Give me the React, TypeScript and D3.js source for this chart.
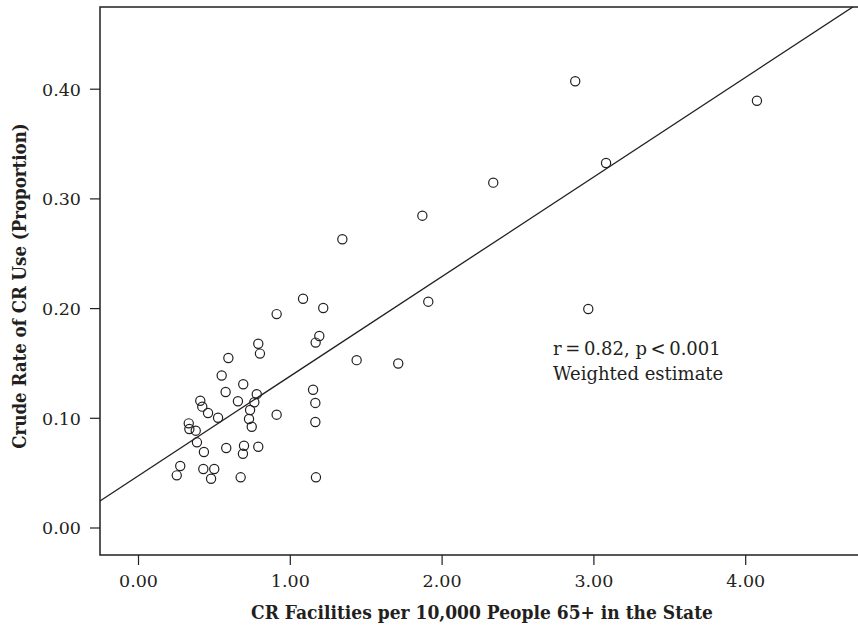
import React from "react";
import * as d3 from "d3";

const facilities: number[] = [
  1.084, 1.217, 0.91, 1.191, 1.167, 0.789, 0.8, 0.592, 1.437, 1.711,
  0.548, 0.69, 0.574, 1.15, 0.779, 0.407, 0.655, 0.763, 1.165, 0.42,
  0.735, 0.458, 0.91, 0.524, 0.728, 1.165, 0.331, 0.746, 0.335, 0.377,
  0.385, 0.578, 0.695, 0.688, 0.789, 0.431, 0.275, 0.427, 0.499, 0.252,
  0.478, 0.673, 1.169, 2.337, 1.87, 1.343, 1.909, 2.963, 2.877, 4.074,
  3.08,
];
const crudeRate: number[] = [
  0.209, 0.2005, 0.195, 0.175, 0.169, 0.168, 0.159, 0.155, 0.153, 0.15,
  0.139, 0.131, 0.124, 0.126, 0.122, 0.116, 0.1155, 0.1146, 0.114, 0.1106,
  0.1076, 0.1048, 0.1033, 0.1005, 0.0994, 0.0966, 0.0954, 0.0923, 0.0902, 0.0887,
  0.0781, 0.0729, 0.075, 0.0677, 0.0741, 0.0693, 0.0565, 0.0538, 0.0538, 0.048,
  0.0449, 0.0462, 0.0462, 0.3148, 0.2847, 0.2632, 0.2063, 0.1996, 0.4072, 0.3895,
  0.3327,
];
const xTicks: number[] = [0, 1, 2, 3, 4];
const yTicks: number[] = [0, 0.1, 0.2, 0.3, 0.4];
const fitIntercept = 0.0477;
const fitSlope = 0.0908;
const annotationLines: string[] = ["r\u2009=\u20090.82, p\u2009<\u20090.001", "Weighted estimate"];
const xTitle = "CR Facilities per 10,000 People 65+ in the State";
const yTitle = "Crude Rate of CR Use (Proportion)";

const W = 858;
const H = 625;
const left = 100;
const right = 858;
const top = 7;
const bottom = 555;

export default function App() {
  const x = d3.scaleLinear().domain([0, 4]).range([138.5, 745.7]);
  const y = d3.scaleLinear().domain([0, 0.4]).range([528, 89.2]);
  const xMin = x.invert(left);
  const xMax = x.invert(right);
  const line = d3
    .line<number>()
    .x((d) => x(d))
    .y((d) => y(fitIntercept + fitSlope * d));
  const font = "'DejaVu Serif', serif";
  const condensed = "'DejaVu Serif Condensed', 'DejaVu Serif', serif";
  const ink = "#231f20";
  return (
    <svg
      width={W}
      height={H}
      style={{ position: "absolute", left: 0, top: 0, background: "#fff" }}
      fontFamily={font}
    >
      <defs>
        <clipPath id="plot">
          <rect x={left} y={top} width={right - left} height={bottom - top} />
        </clipPath>
      </defs>
      {/* frame */}
      <path
        d={`M${right},${top}H${left}V${bottom}H${right}`}
        fill="none"
        stroke={ink}
        strokeWidth={1.5}
      />
      {/* y ticks */}
      {yTicks.map((t) => (
        <g key={"y" + t}>
          <line x1={left - 10} x2={left} y1={y(t)} y2={y(t)} stroke={ink} strokeWidth={1.2} />
          <text
            x={81}
            y={y(t)}
            dy="0.36em"
            textAnchor="end"
            fontSize={17.5}
            fill={ink}
          >
            {d3.format(".2f")(t)}
          </text>
        </g>
      ))}
      {/* x ticks */}
      {xTicks.map((t) => (
        <g key={"x" + t}>
          <line x1={x(t)} x2={x(t)} y1={bottom} y2={bottom + 10} stroke={ink} strokeWidth={1.2} />
          <text x={x(t)} y={587} textAnchor="middle" fontSize={17.5} fill={ink}>
            {d3.format(".2f")(t)}
          </text>
        </g>
      ))}
      {/* regression line */}
      <g clipPath="url(#plot)">
        <path d={line([xMin, xMax]) || ""} fill="none" stroke={ink} strokeWidth={1.3} />
      </g>
      {/* points */}
      {facilities.map((fx, i) => (
        <circle
          key={i}
          cx={x(fx)}
          cy={y(crudeRate[i])}
          r={4.6}
          fill="none"
          stroke={ink}
          strokeWidth={1.2}
        />
      ))}
      {/* annotation */}
      {annotationLines.map((s, i) => (
        <text key={s} x={553} y={355 + i * 25} fontSize={18} fill={ink}>
          {s}
        </text>
      ))}
      {/* axis titles */}
      <text
        x={482}
        y={619}
        textAnchor="middle"
        fontSize={19}
        fontWeight="bold"
        fontFamily={condensed}
        style={{ fontStretch: "condensed" }}
        fill={ink}
      >
        {xTitle}
      </text>
      <text
        transform={`translate(26,286) rotate(-90)`}
        textAnchor="middle"
        fontSize={18.5}
        fontWeight="bold"
        fontFamily={condensed}
        style={{ fontStretch: "condensed" }}
        fill={ink}
      >
        {yTitle}
      </text>
    </svg>
  );
}
